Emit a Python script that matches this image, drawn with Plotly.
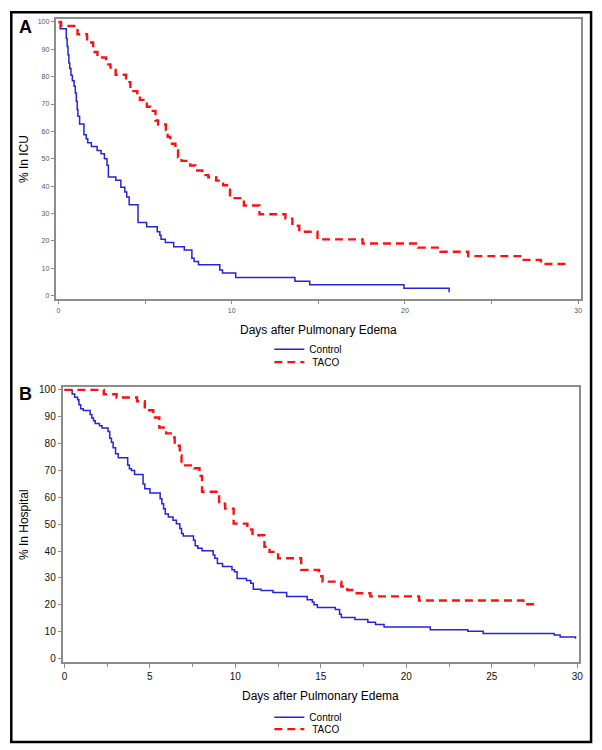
import plotly.graph_objects as go

# ---------------- Data ----------------
# Panel A: % still in ICU
icu_control_days = [0, 0.1, 0.45, 0.5, 0.55, 0.6, 0.65, 0.72, 0.8, 0.9, 0.97, 1.03, 1.08, 1.12,
                    1.22, 1.47, 1.6, 1.69, 1.9, 2.23, 2.46, 2.65, 2.8, 2.88, 3.31, 3.6, 3.83,
                    3.94, 4.08, 4.59, 5.09, 5.7, 5.85, 5.92, 6.17, 6.65, 7.26, 7.7, 7.83, 8.08,
                    9.31, 9.47, 10.23, 13.65, 14.5, 19.94, 22.55]
icu_control_pct = [100, 97.5, 94, 91, 88, 85, 83, 80.5, 78.5, 76.5, 74, 71, 68, 65.5,
                   62.7, 58.8, 57.3, 55.8, 54.5, 53.0, 51.8, 50.0, 47.6, 43.3, 42.1, 39.6, 37.8,
                   36.0, 33.2, 26.7, 25.1, 23.3, 22.0, 20.6, 19.4, 17.8, 16.6, 13.6, 12.4, 11.2,
                   9.3, 8.2, 6.6, 5.2, 3.9, 2.6, 1.2]

icu_taco_days = [0, 0.15, 1.0, 1.1, 1.65, 2.0, 2.25, 2.75, 3.0, 3.3, 3.9, 4.15, 4.55, 4.7, 5.1,
                 5.3, 5.6, 5.75, 6.2, 6.3, 6.45, 6.75, 6.9, 7.1, 7.6, 7.9, 8.3, 8.65, 9.1, 9.5,
                 9.9, 10.7, 11.6, 13.1, 13.5, 13.9, 14.95, 17.55, 20.75, 22.05, 23.65, 26.75,
                 27.85, 29.2]
icu_taco_pct = [100, 98.5, 97, 95.5, 92.5, 89, 87, 84.5, 83.3, 80.7, 78, 74.7, 73, 71.5, 69,
                67.5, 64, 62.5, 60.5, 58, 55.5, 53, 50.5, 49.2, 47.5, 45.7, 44, 43.2, 42, 40.3,
                35.6, 32.9, 29.7, 28.1, 25.5, 23.3, 20.5, 19.0, 17.5, 16.0, 14.4, 13.0,
                11.5, 10.2]

# Panel B: % still in hospital
hosp_control_days = [0, 0.45, 0.6, 0.77, 0.85, 0.95, 1.1, 1.5, 1.6, 1.7, 1.8, 2.05, 2.2, 2.55,
                     2.65, 2.75, 2.85, 2.99, 3.15, 3.7, 3.8, 3.92, 4.1, 4.6, 4.7, 5.0, 5.6, 5.7,
                     5.8, 5.9, 6.08, 6.35, 6.55, 6.75, 6.85, 6.95, 7.55, 7.65, 7.8, 8.05, 8.7,
                     8.8, 8.95, 9.25, 9.8, 9.95, 10.1, 10.65, 10.9, 11.05, 11.5, 12.2, 13.0,
                     14.2, 14.5, 14.6, 14.8, 15.85, 16.1, 16.2, 17.0, 17.75, 18.2, 18.7, 21.4,
                     23.6, 24.5, 28.65, 29.0, 29.9]
hosp_control_pct = [100, 98.5, 97.3, 96.3, 94.5, 93, 92.3, 90.8, 89.5, 88.5, 87.5, 86.7, 85.8,
                    84.5, 82, 80.5, 78.5, 76.2, 74.7, 72, 70.6, 70, 68.5, 65, 63.2, 61.6, 59.5,
                    57.6, 55.7, 53.8, 52.7, 51.5, 50.2, 48.4, 46.5, 45.6, 44, 42, 41, 40.1,
                    38.5, 37.3, 35.4, 34.2, 33, 32.3, 29.8, 29, 28.0, 25.8, 25.3, 24.6, 23.1,
                    21.9, 21, 20.0, 19.0, 18.2, 16.5, 15.2, 14.5, 13.5, 12.6, 11.7, 10.7,
                    10.1, 9.3, 8.7, 8.0, 7.3]

hosp_taco_days = [0, 2.3, 3.05, 4.25, 4.7, 5.2, 5.55, 5.95, 6.3, 6.45, 6.75, 6.85, 7.6, 7.9,
                  8.05, 9.05, 9.4, 9.9, 10.7, 11.0, 11.7, 12.0, 12.5, 13.85, 14.9, 15.1, 16.2,
                  16.55, 17.1, 17.9, 20.75, 26.85, 27.5]
hosp_taco_pct = [100, 98.4, 97.2, 95.8, 92.4, 89.7, 86, 83.8, 82.3, 79.2, 75.6, 71.9, 70.8, 68,
                 62.1, 57.6, 55.8, 50.2, 48, 45.9, 41.6, 39.7, 37.3, 33, 30.6, 28.6, 26.8,
                 25.5, 24.3, 23.1, 21.6, 20.2, 18.8]

y_ticks = [0, 10, 20, 30, 40, 50, 60, 70, 80, 90, 100]
x_ticks_a = [0, 10, 20, 30]
x_ticks_b = [0, 5, 10, 15, 20, 25, 30]

# ---------------- Styling ----------------
OFF = 8                      # default page margin of the html body
W, H = 602 - OFF, 750 - OFF
FONT = "Arial, Liberation Sans, sans-serif"
BLUE = "#2424d8"
RED = "#ff1010"
FRAME = "#8c8c8c"


def fx(px):
    return (px - OFF) / W


def fy(py):
    return 1 - (py - OFF) / H


fig = go.Figure()

fig.add_trace(go.Scatter(x=icu_control_days, y=icu_control_pct, mode="lines", name="Control",
                         line=dict(shape="hv", color=BLUE, width=1.5),
                         xaxis="x", yaxis="y", legend="legend"))
fig.add_trace(go.Scatter(x=icu_taco_days, y=icu_taco_pct, mode="lines", name="\u00a0TACO",
                         line=dict(shape="hv", color=RED, width=2.4, dash="8px,5px"),
                         xaxis="x", yaxis="y", legend="legend2"))
fig.add_trace(go.Scatter(x=hosp_control_days, y=hosp_control_pct, mode="lines", name="Control",
                         line=dict(shape="hv", color=BLUE, width=1.5),
                         xaxis="x2", yaxis="y2", legend="legend3"))
fig.add_trace(go.Scatter(x=hosp_taco_days, y=hosp_taco_pct, mode="lines", name="\u00a0TACO",
                         line=dict(shape="hv", color=RED, width=2.4, dash="8px,5px"),
                         xaxis="x2", yaxis="y2", legend="legend4"))

axis_common = dict(showline=True, mirror=True, linecolor=FRAME, linewidth=1.5,
                   showgrid=False, zeroline=False, ticks="outside", tickcolor=FRAME,
                   tickwidth=1)

fig.update_layout(
    width=W, height=H, autosize=False,
    margin=dict(l=0, r=0, t=0, b=0),
    paper_bgcolor="white", plot_bgcolor="white",
    showlegend=True,
    font=dict(family=FONT, color="black"),
    xaxis=dict(domain=[fx(54), fx(585)], anchor="y", range=[-0.17, 30.17],
               tickvals=x_ticks_a, ticklen=3,
               tickfont=dict(size=7, color="#555555"),
               minor=dict(dtick=5, tick0=0, ticks="outside", ticklen=3, tickcolor=FRAME),
               **axis_common),
    yaxis=dict(domain=[fy(298), fy(16)], anchor="x", range=[-1.45, 101.1],
               tickvals=y_ticks, ticklen=3,
               tickfont=dict(size=7, color="#555555"),
               **axis_common),
    xaxis2=dict(domain=[fx(62), fx(583)], anchor="y2", range=[-0.058, 30.116],
                tickvals=x_ticks_b, ticklen=4,
                tickfont=dict(size=10, color="#111111"),
                minor=dict(dtick=2.5, tick0=0, ticks="outside", ticklen=3, tickcolor=FRAME),
                **axis_common),
    yaxis2=dict(domain=[fy(663), fy(386)], anchor="x2", range=[-1.5, 101.1],
                tickvals=y_ticks, ticklen=4,
                tickfont=dict(size=10, color="#111111"),
                **axis_common),
)

leg_common = dict(xanchor="left", yanchor="middle", bgcolor="rgba(0,0,0,0)",
                  font=dict(size=10, color="black", family=FONT), itemwidth=30,
                  borderwidth=0, visible=True)
fig.update_layout(
    legend=dict(x=fx(270), y=fy(348), **leg_common),
    legend2=dict(x=fx(270), y=fy(361), **leg_common),
    legend3=dict(x=fx(270), y=fy(718), **leg_common),
    legend4=dict(x=fx(270), y=fy(730), **leg_common),
)

annotations = [
    dict(text="<b>A</b>", x=fx(15), y=fy(24), xanchor="left", yanchor="middle",
         font=dict(size=18, color="black")),
    dict(text="<b>B</b>", x=fx(15), y=fy(393), xanchor="left", yanchor="middle",
         font=dict(size=18, color="black")),
    dict(text="% In ICU", x=fx(22), y=fy(157), textangle=-90, xanchor="center",
         yanchor="middle", font=dict(size=12, color="black")),
    dict(text="% In Hospital", x=fx(22), y=fy(524), textangle=-90, xanchor="center",
         yanchor="middle", font=dict(size=12, color="black")),
    dict(text="Days after Pulmonary Edema", x=fx(320), y=fy(329), xanchor="center",
         yanchor="middle", font=dict(size=12, color="black")),
    dict(text="Days after Pulmonary Edema", x=fx(322), y=fy(697), xanchor="center",
         yanchor="middle", font=dict(size=12, color="black")),
]
for a in annotations:
    a.update(xref="paper", yref="paper", showarrow=False)
fig.update_layout(annotations=annotations)

# outer frame (left/top edges sit at the very edge of the figure)
fig.add_shape(type="rect", xref="paper", yref="paper",
              x0=1.3 / W, x1=fx(595), y0=fy(743), y1=1 - 1.3 / H,
              line=dict(color="black", width=2.5), fillcolor="rgba(0,0,0,0)")

fig.write_html("out.html")
